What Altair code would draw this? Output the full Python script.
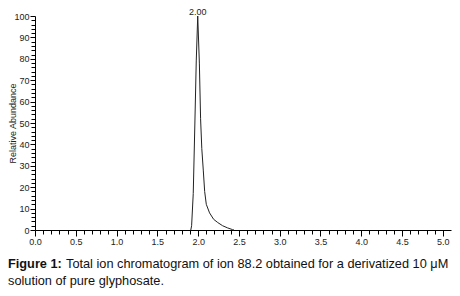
import altair as alt
import pandas as pd

# Chromatogram trace (retention time in minutes, relative abundance %)
times = [1.91, 1.92, 1.94, 1.96, 1.977, 1.995, 2.015, 2.03, 2.045, 2.063, 2.08,
         2.10, 2.14, 2.19, 2.24, 2.30, 2.36, 2.42, 2.44]
abundance = [0, 2, 17, 50, 79, 100, 78, 52, 38, 28, 18,
             12, 8, 5, 3.5, 2, 1, 0.2, 0]

peak_time = [1.995]
peak_value = [100]
peak_label = ["2.00"]

x_tick_values = [round(i * 0.1, 1) for i in range(51)]
y_tick_values = list(range(0, 101, 2))

caption_bold = "Figure 1:"
caption_line1 = "Total ion chromatogram of ion 88.2 obtained for a derivatized 10 \u03bcM"
caption_line2 = "solution of pure glyphosate."

FONT = "Liberation Sans"
CAP_SIZE = 12.75

trace = pd.DataFrame({"time": times, "abundance": abundance})
peak = pd.DataFrame({"time": peak_time, "abundance": peak_value, "label": peak_label})

x_major = "abs(datum.value*2 - round(datum.value*2)) < 0.001"
y_major = "abs(datum.value/10 - round(datum.value/10)) < 0.001"

x_enc = alt.X(
    "time:Q",
    scale=alt.Scale(domain=[0, 5.1], nice=False, zero=False),
    axis=alt.Axis(
        values=x_tick_values,
        tickCount=500,
        labelExpr=f"{x_major} ? format(datum.value, '.1f') : ''",
        tickSize={"condition": {"test": x_major, "value": 6}, "value": 4},
        labelOverlap=False,
        labelFlush=False,
        grid=False,
        title=None,
        labelFont=FONT,
        labelFontSize=9,
        labelColor="#222",
        labelPadding=1,
        domainColor="#000",
        tickColor="#000",
    ),
)
y_enc = alt.Y(
    "abundance:Q",
    scale=alt.Scale(domain=[0, 100], nice=False),
    axis=alt.Axis(
        values=y_tick_values,
        tickCount=500,
        labelExpr=f"{y_major} ? format(datum.value, 'd') : ''",
        tickSize={"condition": {"test": y_major, "value": 5}, "value": 4},
        labelOverlap=False,
        labelFlush=False,
        grid=False,
        title="Relative Abundance",
        titleFont=FONT,
        titleFontSize=9,
        titleFontWeight="normal",
        titleColor="#222",
        titleX=-23,
        titleY=107,
        titleAngle=270,
        titleAlign="center",
        titleBaseline="middle",
        labelFont=FONT,
        labelFontSize=9,
        labelColor="#222",
        labelPadding=1,
        domainColor="#000",
        tickColor="#000",
    ),
)

line = alt.Chart(trace).mark_line(color="#222", strokeWidth=1).encode(x=x_enc, y=y_enc)

peak_text = alt.Chart(peak).mark_text(
    font=FONT, fontSize=9, color="#222", baseline="alphabetic", align="center", dy=-1
).encode(x="time:Q", y="abundance:Q", text="label:N")

cap = pd.DataFrame({"bold": [caption_bold], "l1": [caption_line1], "l2": [caption_line2]})
cap_bold = alt.Chart(cap).mark_text(
    font=FONT, fontSize=CAP_SIZE, fontWeight="bold", align="left", baseline="alphabetic", color="#111"
).encode(x=alt.value(-27), y=alt.value(252), text="bold:N")
cap_l1 = alt.Chart(cap).mark_text(
    font=FONT, fontSize=CAP_SIZE, align="left", baseline="alphabetic", color="#111"
).encode(x=alt.value(31), y=alt.value(252), text="l1:N")
cap_l2 = alt.Chart(cap).mark_text(
    font=FONT, fontSize=CAP_SIZE, align="left", baseline="alphabetic", color="#111"
).encode(x=alt.value(-27), y=alt.value(269), text="l2:N")

chart = alt.layer(line, peak_text, cap_bold, cap_l1, cap_l2).properties(
    width=416,
    height=214,
    autosize=alt.AutoSizeParams(type="none"),
    padding={"left": 27, "top": 8, "right": 1, "bottom": 58},
).configure_view(stroke=None)

chart.save("out.html", embed_options={"renderer": "svg", "actions": False})
